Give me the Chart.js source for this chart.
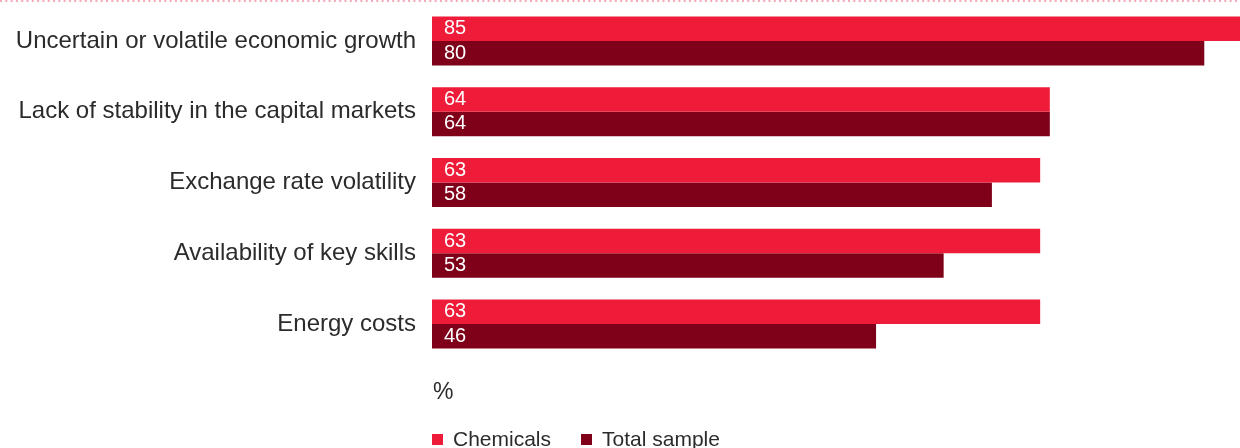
<!DOCTYPE html>
<html>
<head>
<meta charset="utf-8">
<script src="https://cdn.jsdelivr.net/npm/chart.js@4"></script>
<style>
  html, body { margin: 0; padding: 0; background: #fff; }
  #wrap { position: relative; width: 1240px; height: 448px; overflow: hidden; font-family: "Liberation Sans", Arial, sans-serif; color: #2b2b2b; }
  #chart { position: absolute; left: 0; top: 0; }
  #pct { position: absolute; left: 433px; top: 378px; font-size: 23px; }
  #legend { position: absolute; left: 432px; top: 427px; font-size: 21px; white-space: nowrap; }
  #legend span.sw { display: inline-block; width: 11px; height: 11px; margin-right: 10px; vertical-align: 1px; }
  #legend span.item { margin-right: 30px; }
</style>
</head>
<body>
<div id="wrap">
  <canvas id="chart" width="1240" height="448"></canvas>
  <div id="pct">%</div>
  <div id="legend"></div>
</div>
<script>
const categories = [
  "Uncertain or volatile economic growth",
  "Lack of stability in the capital markets",
  "Exchange rate volatility",
  "Availability of key skills",
  "Energy costs",
];
const chemicals = [85, 64, 63, 63, 63];
const totalSample = [80, 64, 58, 53, 46];
const seriesNames = ["Chemicals", "Total sample"];
const colors = ["#ee1c38", "#7e0019"];

// white value labels just inside the bar start
const valueLabels = {
  id: "valueLabels",
  afterDatasetsDraw(chart) {
    const { ctx } = chart;
    ctx.save();
    ctx.fillStyle = "#fff";
    ctx.font = "20px 'Liberation Sans', Arial, sans-serif";
    ctx.textBaseline = "alphabetic";
    ctx.textAlign = "left";
    chart.data.datasets.forEach((ds, i) => {
      chart.getDatasetMeta(i).data.forEach((bar, j) => {
        ctx.fillText(String(ds.data[j]), bar.base + 12, bar.y + 5.5);
      });
    });
    ctx.restore();
  },
};

// dotted rule along the top
const topRule = {
  id: "topRule",
  beforeDraw(chart) {
    const { ctx } = chart;
    ctx.save();
    ctx.strokeStyle = "#f5a9b7";
    ctx.lineWidth = 2;
    ctx.setLineDash([2, 3.3]);
    ctx.beginPath();
    ctx.moveTo(0, 1);
    ctx.lineTo(chart.width, 1);
    ctx.stroke();
    ctx.restore();
  },
};

new Chart(document.getElementById("chart"), {
  type: "bar",
  data: {
    labels: categories,
    datasets: [
      { label: seriesNames[0], data: chemicals, backgroundColor: colors[0] },
      { label: seriesNames[1], data: totalSample, backgroundColor: colors[1] },
    ],
  },
  options: {
    indexAxis: "y",
    responsive: false,
    animation: false,
    categoryPercentage: 0.6926,
    barPercentage: 1,
    layout: { padding: { top: 5.6, bottom: 88.6, left: 0, right: 0 } },
    plugins: { legend: { display: false }, tooltip: { enabled: false } },
    scales: {
      x: { display: false, min: 0, max: 83.7 },
      y: {
        grid: { display: false, drawTicks: false },
        border: { display: false },
        ticks: {
          color: "#2b2b2b",
          padding: 16,
          font: { size: 24, family: "'Liberation Sans', Arial, sans-serif" },
        },
        afterFit(scale) {
          scale.width = 432;
          scale.paddingTop = 0;
          scale.paddingBottom = 0;
        },
      },
    },
  },
  plugins: [valueLabels, topRule],
});

document.getElementById("legend").innerHTML = seriesNames
  .map((n, i) => `<span class="item"><span class="sw" style="background:${colors[i]}"></span>${n}</span>`)
  .join("");
</script>
</body>
</html>
